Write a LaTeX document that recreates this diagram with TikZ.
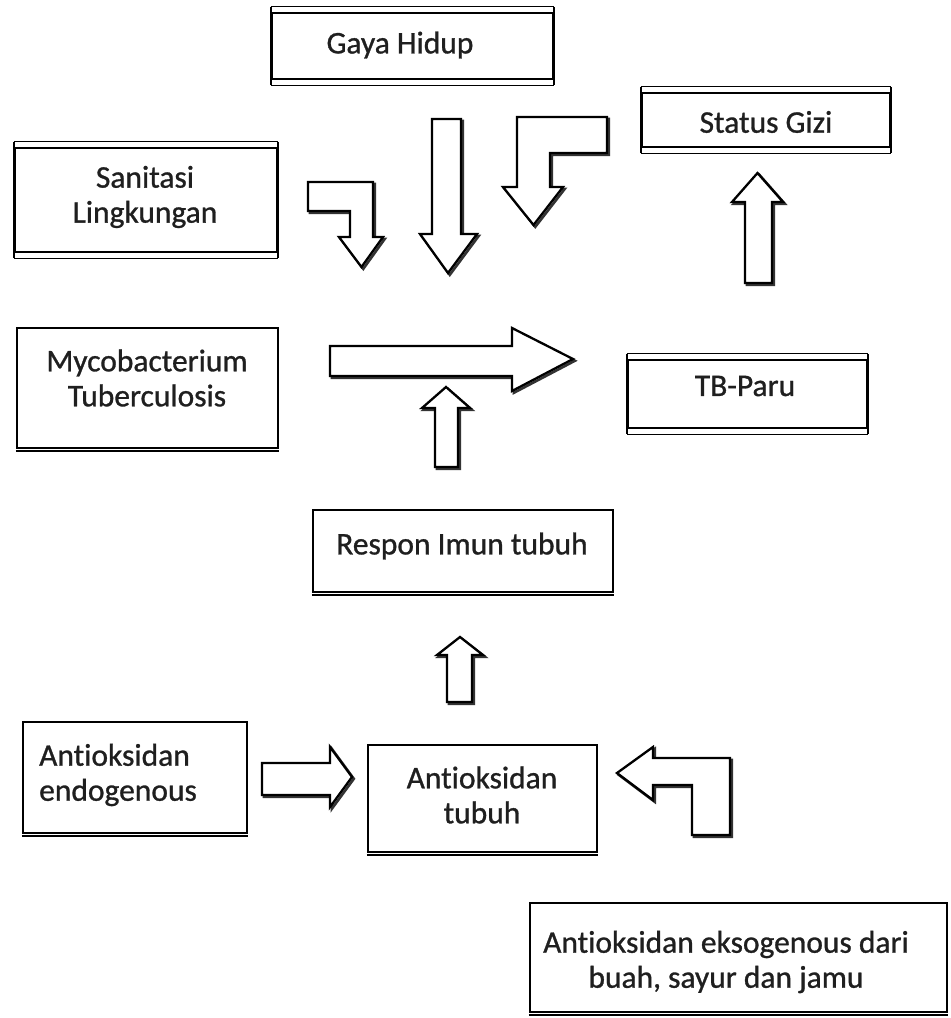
\documentclass[tikz,border=0pt]{standalone}
\usepackage{fontspec}
\setmainfont[Ligatures=NoCommon, FakeBold=0.9]{Carlito}
\newcommand\fsz{\fontsize{31.5}{35}\selectfont}
\newcommand\blkarrow[1]{\draw[shad] #1; \draw[blk] #1;}
\begin{document}
\begin{tikzpicture}[x=1pt,y=-1pt,
  box/.style={draw=black, line width=2.4pt, inner sep=0pt},
  lbl/.style={inner sep=0pt, align=center, font=\fsz, text=black!88},
  blk/.style={draw=black, line width=2.3pt, fill=white, line join=miter},
  shad/.style={draw=black!80, line width=2.6pt, line join=miter, shift={(1.8,1.8)}},
  thinl/.style={draw=black, line width=1.2pt},
  thickl/.style={draw=black, line width=2.4pt}]
\useasboundingbox[fill=white] (0,0) rectangle (951,1018);

% boxes
\node[box, minimum width=281pt, minimum height=66pt] (gaya) at (412.5,46) {};
\node[box, minimum width=262pt, minimum height=104pt] (sani) at (146,200) {};
\node[box, minimum width=248pt, minimum height=54pt] (gizi) at (766,120) {};
\node[box, minimum width=239pt, minimum height=68pt] (tb) at (747.5,394) {};
\node[box, minimum width=261pt, minimum height=120pt] (myco) at (147.5,388) {};
\node[box, minimum width=300pt, minimum height=82pt] (respon) at (463,551) {};
\node[box, minimum width=224pt, minimum height=111pt] (endo) at (135,777.5) {};
\node[box, minimum width=229pt, minimum height=107pt] (tubuh) at (482.5,798.5) {};
\node[box, minimum width=417pt, minimum height=109pt] (ekso) at (738.5,957.5) {};

% double borders
\foreach \n in {gaya,sani,gizi,tb}{
  \draw[thinl] ([yshift=5pt]\n.north west) -- ([yshift=5pt]\n.north east);
  \draw[thinl] ([yshift=-5pt]\n.south west) -- ([yshift=-5pt]\n.south east);
  \draw[thickl] ([yshift=5pt]\n.north west) -- ([yshift=-5pt]\n.south west);
  \draw[thickl] ([yshift=5pt]\n.north east) -- ([yshift=-5pt]\n.south east);
}
% heavier bottom edges
\foreach \n in {myco,respon,endo,tubuh,ekso}{
  \draw[line width=1.8pt] ([yshift=-2pt]\n.south west) -- ([yshift=-2pt]\n.south east);
}

% labels
\node[lbl] (gayal) at (400,45) {Gaya Hidup};
\node[lbl] (sanil) at (145,197) {Sanitasi\\Lingkungan};
\node[lbl] (gizil) at (766,122) {Status Gizi};
\node[lbl] (mycol) at (147,378) {Mycobacterium\\Tuberculosis};
\node[lbl] (tbl) at (745,386) {TB-Paru};
\node[lbl] (responl) at (462,546) {Respon Imun tubuh};
\node[lbl, align=left, anchor=west] (endol) at (39,775) {Antioksidan\\endogenous};
\node[lbl] (tubuhl) at (482,795) {Antioksidan\\tubuh};
\node[lbl] (eksol) at (726,962) {Antioksidan eksogenous dari\\buah, sayur dan jamu};

% block arrows
\blkarrow{(308,182) -- (373,182) -- (373,237) -- (383,237) -- (361.5,267) -- (339,237) -- (350,237) -- (350,211) -- (308,211) -- cycle}
\blkarrow{(432,119) -- (461,119) -- (461,234) -- (477,234) -- (448,273) -- (420,234) -- (432,234) -- cycle}
\blkarrow{(517,117) -- (607,117) -- (607,153) -- (550,153) -- (550,187) -- (563,187) -- (533.5,225) -- (503,187) -- (517,187) -- cycle}
\blkarrow{(745,283) -- (745,202) -- (732,202) -- (757.5,173) -- (783,202) -- (772,202) -- (772,283) -- cycle}
\blkarrow{(330,346) -- (512,346) -- (512,328) -- (573,359) -- (512,391) -- (512,376) -- (330,376) -- cycle}
\blkarrow{(435,467) -- (435,408) -- (422,408) -- (446,387) -- (470,408) -- (458,408) -- (458,467) -- cycle}
\blkarrow{(447,702) -- (447,655) -- (437,655) -- (460,637) -- (483,655) -- (472,655) -- (472,702) -- cycle}
\blkarrow{(262,763) -- (330,763) -- (330,747) -- (352,777) -- (330,807) -- (330,795) -- (262,795) -- cycle}
\blkarrow{(617,773) -- (653,747) -- (653,758) -- (730,758) -- (730,835) -- (692,835) -- (692,785) -- (653,785) -- (653,800) -- cycle}
\end{tikzpicture}
\end{document}
